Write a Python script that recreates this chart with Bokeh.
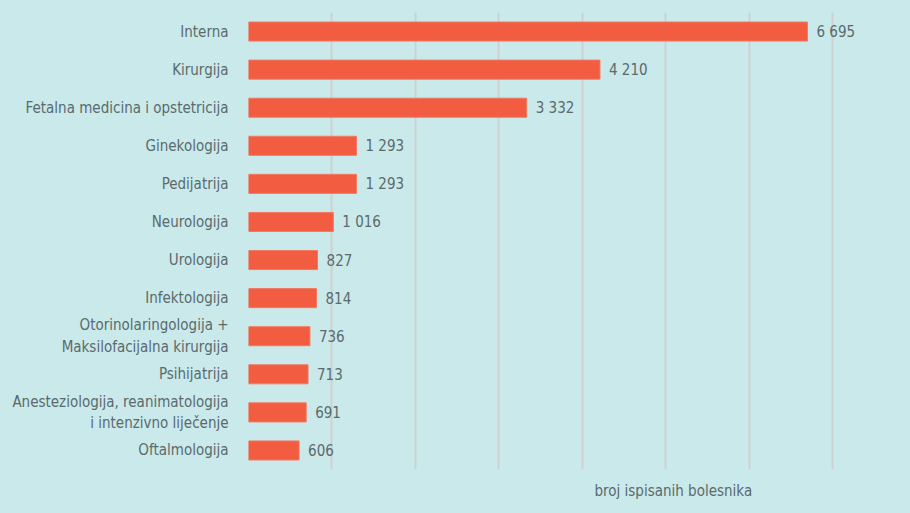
from bokeh.plotting import figure
from bokeh.models import ColumnDataSource, FactorRange, Range1d, FixedTicker, Title, GlobalInlineStyleSheet
from bokeh.core.properties import value
from bokeh.embed import file_html
from bokeh.resources import INLINE

categories = [
    "Interna",
    "Kirurgija",
    "Fetalna medicina i opstetricija",
    "Ginekologija",
    "Pedijatrija",
    "Neurologija",
    "Urologija",
    "Infektologija",
    "Otorinolaringologija +\nMaksilofacijalna kirurgija",
    "Psihijatrija",
    "Anesteziologija, reanimatologija\ni intenzivno liječenje",
    "Oftalmologija",
]
patients = [6695, 4210, 3332, 1293, 1293, 1016, 827, 814, 736, 713, 691, 606]
grid_ticks = [0, 1000, 2000, 3000, 4000, 5000, 6000, 7000]
axis_title = "broj ispisanih bolesnika"

BG = "#c9e9ea"
BAR = "#f25c40"
TXT = "#5b6a6c"
FONT = "DejaVu Sans Condensed"

labels = [f"{v:,}".replace(",", " ") for v in patients]
src = ColumnDataSource(dict(cat=categories, val=patients, lab=labels))

p = figure(
    width=910, height=513,
    y_range=FactorRange(factors=categories[::-1], range_padding=0),
    x_range=Range1d(0, 7570),
    output_backend="svg", toolbar_location=None,
    min_border_left=248, min_border_right=30, min_border_top=12, min_border_bottom=0,
    background_fill_color=BG, border_fill_color=BG, outline_line_color=None,
)
p.stylesheets = [GlobalInlineStyleSheet(css=f"body {{ background: {BG}; }}")]

p.hbar(y="cat", right="val", height=0.5, source=src, fill_color=BAR, line_color="#f07a63", line_width=1)
p.text(x="val", y="cat", text="lab", source=src, x_offset=9, text_baseline="middle",
       text_font=value(FONT), text_font_size="15px", text_color=TXT)

p.xaxis.visible = False
p.xgrid.ticker = FixedTicker(ticks=grid_ticks)
p.xgrid.grid_line_color = "#cdd1d1"
p.xgrid.grid_line_width = 2
p.ygrid.grid_line_color = None

ya = p.yaxis[0]
ya.axis_line_color = None
ya.major_tick_line_color = None
ya.minor_tick_line_color = None
ya.major_label_text_font = FONT
ya.major_label_text_font_size = "15px"
ya.major_label_text_color = TXT
ya.major_label_standoff = 14

p.add_layout(Title(text=axis_title, align="left", offset=346, standoff=24,
                   vertical_align="top",
                   text_font=FONT, text_font_size="15px", text_font_style="normal",
                   text_color=TXT), "below")

open("out.html", "w").write(file_html(p, INLINE))
